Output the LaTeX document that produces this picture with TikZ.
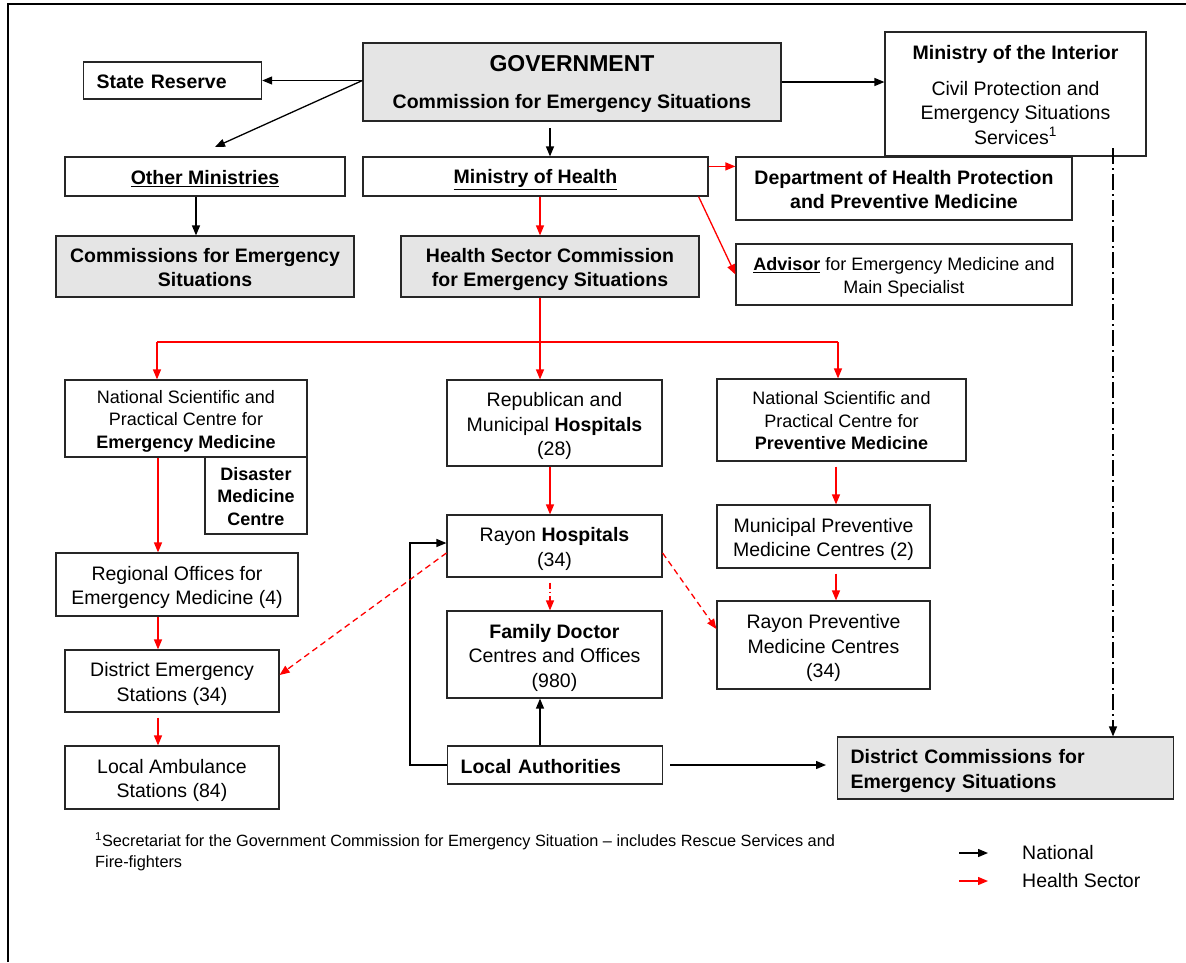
\documentclass[tikz,border=0pt]{standalone}
\usepackage{fontspec}
\setmainfont{Liberation Sans}
\usetikzlibrary{arrows.meta}
\newcommand\topstr{\rule{0pt}{1.05em}}
\newcommand\botstr{\rule[-0.23em]{0pt}{0pt}}
\begin{document}
\begin{tikzpicture}[x=1pt,y=-1pt,
 box/.style={draw=black!85, line width=1.2pt, inner sep=0pt, align=center, font=\fontsize{19.5}{24.5}\selectfont},
 bbox/.style={box, font=\fontsize{19.5}{24.5}\selectfont\bfseries},
 sbox/.style={box, font=\fontsize{18}{22.5}\selectfont},
 gfill/.style={fill=black!10},
 tip/.style={-{Triangle[length=10pt,width=8pt]}},
 nat/.style={line width=1.3pt, black},
 hs/.style={line width=1.3pt, red},
 plain/.style={inner sep=0pt, font=\fontsize{19.5}{24.5}\selectfont},
]
\useasboundingbox (0,0) rectangle (1186,962);
\draw[line width=2pt] (7.5,962) -- (7.5,3.5) -- (1186,3.5);

% ---- nodes ----
\node[bbox, anchor=west, text width=152pt, inner xsep=13pt, align=left, minimum height=37pt] (sr) at (83,80.5) {\topstr State Reserve\botstr};
\node[bbox, gfill, minimum width=418pt, minimum height=78pt] (gov) at (572,82)
  {\topstr{\fontsize{23}{28}\selectfont GOVERNMENT}\\[12pt]Commission for Emergency Situations\botstr};
\node[box, minimum width=261pt, minimum height=124pt] (moi) at (1015.5,94)
  {\topstr\textbf{Ministry of the Interior}\\[11pt]Civil Protection and\\Emergency Situations\\Services\textsuperscript{1}\botstr};
\node[bbox, minimum width=280pt, minimum height=39pt] (om) at (205,176.5) {\topstr\underline{Other Ministries}\botstr};
\node[bbox, minimum width=345pt, minimum height=39pt] (moh) at (535.5,176.5) {\topstr\underline{Ministry of Health}\botstr};
\node[bbox, minimum width=336pt, minimum height=63pt] (dhp) at (904,188.5) {\topstr Department of Health Protection\\and Preventive Medicine\botstr};
\node[bbox, gfill, minimum width=298pt, minimum height=61pt] (ces) at (205,266.5) {\topstr Commissions for Emergency\\Situations\botstr};
\node[bbox, gfill, minimum width=298pt, minimum height=61pt] (hsc) at (550,266.5) {\topstr Health Sector Commission\\for Emergency Situations\botstr};
\node[sbox, minimum width=336pt, minimum height=61pt] (adv) at (904,274.5) {\topstr\underline{\textbf{Advisor}} for Emergency Medicine and\\Main Specialist\botstr};

\node[sbox, minimum width=242pt, minimum height=77pt] (nem) at (186,418.5) {\topstr National Scientific and\\Practical Centre for\\\textbf{Emergency Medicine}\botstr};
\node[sbox, font=\fontsize{18}{22.5}\selectfont\bfseries, minimum width=102pt, minimum height=77pt] (dmc) at (256,495.5) {\topstr Disaster\\Medicine\\Centre\botstr};
\node[box, minimum width=215pt, minimum height=86pt] (rep) at (554.5,423) {\topstr Republican and\\Municipal \textbf{Hospitals}\\(28)\botstr};
\node[sbox, minimum width=249pt, minimum height=82pt] (npm) at (841.5,420) {\topstr National Scientific and\\Practical Centre for\\\textbf{Preventive Medicine}\botstr};
\node[box, minimum width=215pt, minimum height=62pt] (rh) at (554.5,546) {\topstr Rayon \textbf{Hospitals}\\(34)\botstr};
\node[box, minimum width=213pt, minimum height=63pt] (mpm) at (823.5,536.5) {\topstr Municipal Preventive\\Medicine Centres (2)\botstr};
\node[box, minimum width=242pt, minimum height=63pt] (ro) at (177,584.5) {\topstr Regional Offices for\\Emergency Medicine (4)\botstr};
\node[box, minimum width=215pt, minimum height=87pt] (fd) at (554.5,654.5) {\topstr\textbf{Family Doctor}\\Centres and Offices\\(980)\botstr};
\node[box, minimum width=213pt, minimum height=88pt] (rpm) at (823.5,645) {\topstr Rayon Preventive\\Medicine Centres\\(34)\botstr};
\node[box, minimum width=214pt, minimum height=62pt] (des) at (172,681) {\topstr District Emergency\\Stations (34)\botstr};
\node[box, minimum width=214pt, minimum height=63pt] (las) at (172,777.5) {\topstr Local Ambulance\\Stations (84)\botstr};
\node[bbox, anchor=west, text width=189pt, inner xsep=13pt, align=left, minimum height=38pt] (la) at (447,765) {\topstr Local Authorities\botstr};
\node[bbox, gfill, anchor=west, text width=310pt, inner xsep=13pt, align=left, minimum height=62pt] (dc) at (837,768) {\topstr District Commissions for\\Emergency Situations\botstr};

% ---- helper coordinates ----
\coordinate (omtip) at (215,147);
\coordinate (g1) at (550,128);
\coordinate (x540) at (540,342);
\coordinate (busL) at (157,342);
\coordinate (busR) at (838,342);
\coordinate (xl) at (158,0);
\coordinate (x550) at (550,0);
\coordinate (xr) at (836,0);
\coordinate (xi) at (1113,148);

% ---- national (black) ----
\draw[nat,tip] (sr.east -| gov.west) -- (sr.east);
\draw[nat,tip] (sr.east -| gov.west) -- (omtip);
\draw[nat,tip] (g1) -- (g1 |- moh.north);
\draw[nat,tip] (gov.east) -- (gov.east -| moi.west);
\draw[nat,tip] ([xshift=-9pt]om.south) -- ([xshift=-9pt]om.south |- ces.north);
\draw[nat,tip] (la.north -| x540) -- (fd.south -| x540);
\draw[nat,tip] (la.west) -- ++(-37,0) |- ([yshift=3pt]rh.west);
\draw[nat,tip] ([xshift=7pt]la.east) -- ([xshift=-11pt]la.east -| dc.west);
\draw[nat,tip,dash pattern=on 16pt off 4pt on 2pt off 4pt] (xi) -- (xi |- dc.north);

% ---- health sector (red) ----
\draw[hs,tip] ([yshift=-10pt]moh.north east) -- ([yshift=-10pt]dhp.north west);
\draw[hs,tip] ([xshift=-10pt]moh.south east) -- (adv.west);
\draw[hs,tip] (moh.south -| x540) -- (hsc.north -| x540);
\draw[hs,tip] (hsc.south -| x540) -- (rep.north -| x540);
\draw[hs] (busL) -- (busR);
\draw[hs,tip] (busL) -- (busL |- nem.north);
\draw[hs,tip] (busR) -- (busR |- npm.north);
\draw[hs,tip] (nem.south -| xl) -- (ro.north -| xl);
\draw[hs,tip] (ro.south -| xl) -- (des.north -| xl);
\draw[hs,tip] ([yshift=-5pt]des.south -| xl) -- (las.north -| xl);
\draw[hs,tip] (rep.south -| x550) -- (rh.north -| x550);
\draw[hs,tip,dash pattern=on 6pt off 3pt on 1.5pt off 3pt] ([yshift=-5pt]rh.south -| x550) -- (fd.north -| x550);
\draw[hs,tip,dash pattern=on 6pt off 4pt] ([yshift=-7pt]rh.west) -- ([yshift=6pt]des.east);
\draw[hs,tip,dash pattern=on 6pt off 4pt] ([yshift=-7pt]rh.east) -- ([yshift=16pt]rpm.west);
\draw[hs,tip] ([yshift=-5pt]npm.south -| xr) -- (mpm.north -| xr);
\draw[hs,tip] ([yshift=-5pt]mpm.south -| xr) -- (rpm.north -| xr);

% ---- footnote and legend ----
\node[inner sep=0pt, anchor=north west, align=left, font=\fontsize{16.3}{21}\selectfont] (fn) at (95,832)
  {\textsuperscript{1}Secretariat for the Government Commission for Emergency Situation – includes Rescue Services and\\Fire-fighters};
\node[plain, anchor=west] (lnat) at (1022,853) {National};
\node[plain, anchor=west] (lhs) at (1022,881) {Health Sector};
\draw[nat,tip] ([xshift=-63pt]lnat.west) -- ([xshift=-34pt]lnat.west);
\draw[hs,tip] ([xshift=-63pt]lhs.west) -- ([xshift=-34pt]lhs.west);
\end{tikzpicture}
\end{document}
